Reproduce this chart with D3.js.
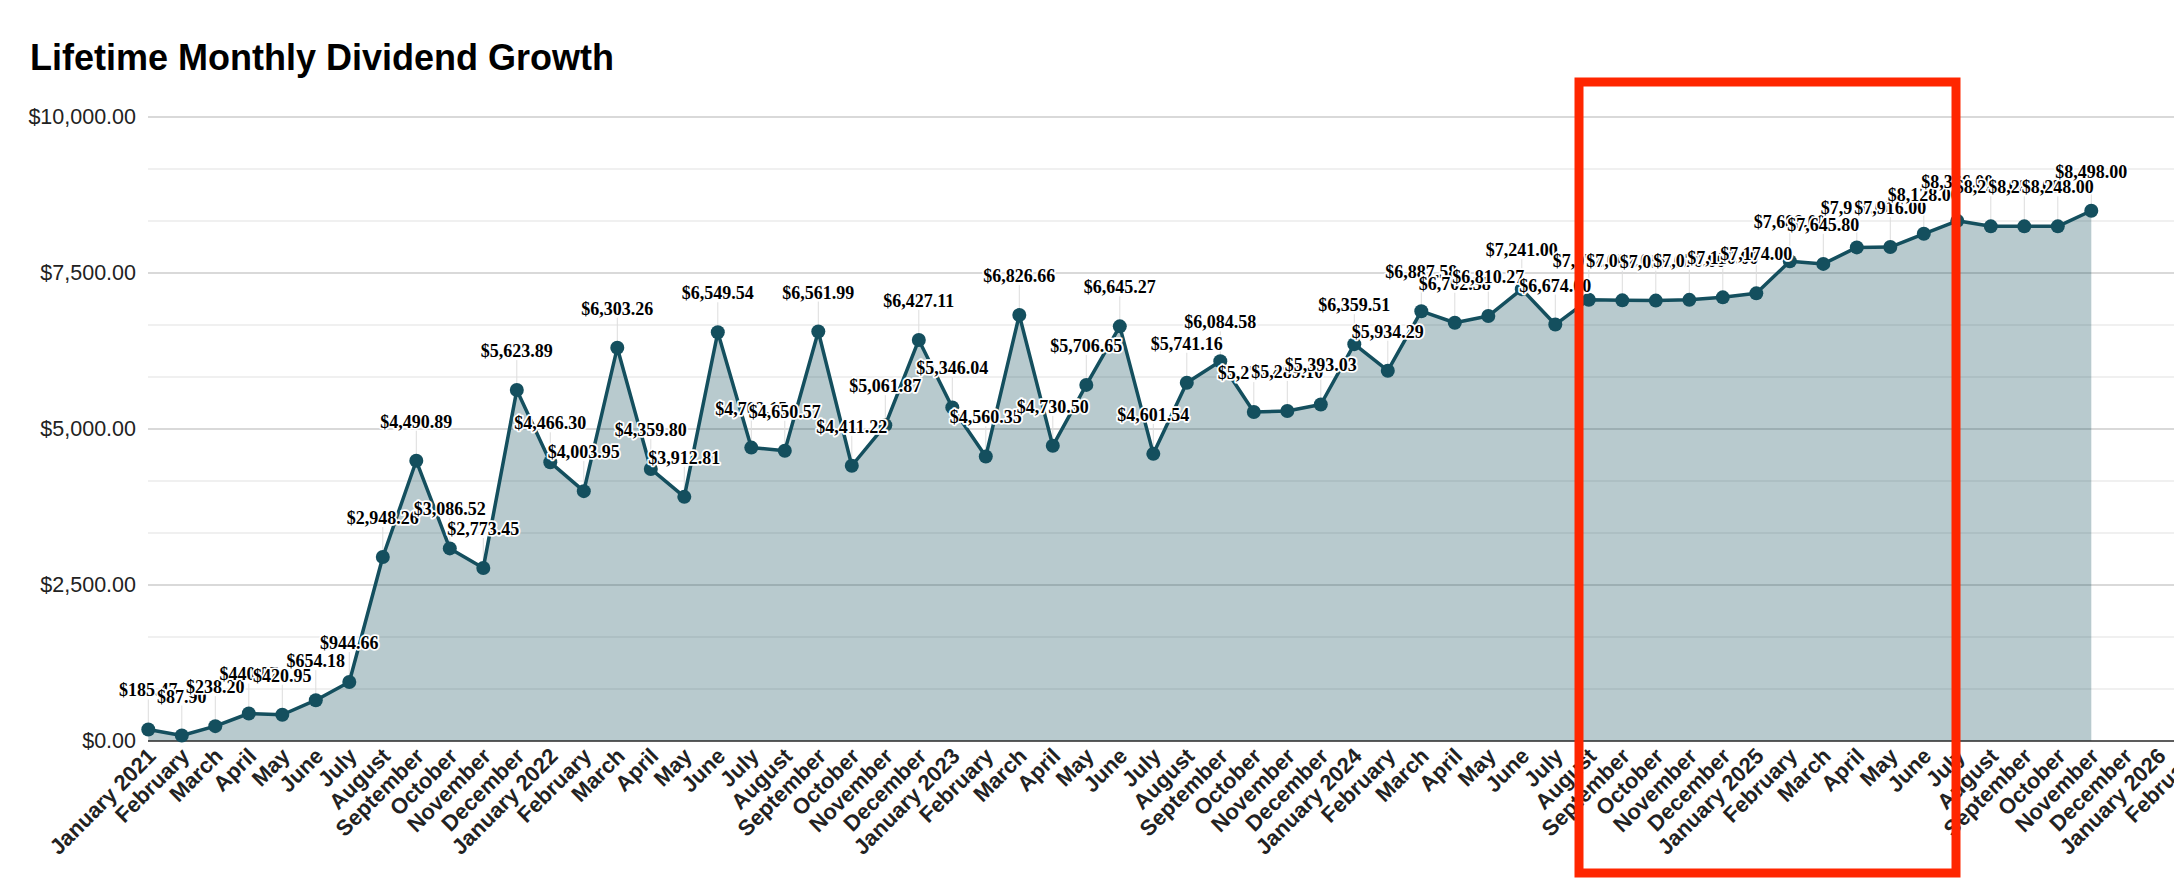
<!DOCTYPE html>
<html>
<head>
	<meta http-equiv="Content-Type" content="text/html; charset=utf-8" />
	<script src="https://cdn.jsdelivr.net/npm/d3@7/dist/d3.min.js" charset="utf-8"></script>
	<style type="text/css">
	body {
		background-color: #FFFFFF;
		margin: 0;
		overflow: hidden;
	}
	</style>
</head>
<body>
	<svg id="chart" width="2174" height="882" version="1.1" xmlns="http://www.w3.org/2000/svg"></svg>

	<script type="text/javascript">
		/* x categories, Jan 2021 .. Feb 2026 */
		var v_Months = [
			"January 2021", "February", "March", "April", "May", "June", "July", "August", "September", "October", "November", "December",
			"January 2022", "February", "March", "April", "May", "June", "July", "August", "September", "October", "November", "December",
			"January 2023", "February", "March", "April", "May", "June", "July", "August", "September", "October", "November", "December",
			"January 2024", "February", "March", "April", "May", "June", "July", "August", "September", "October", "November", "December",
			"January 2025", "February", "March", "April", "May", "June", "July", "August", "September", "October", "November", "December",
			"January 2026", "February"
		];

		/* monthly dividends, one per month from January 2021 */
		var v_Dividends = [
			185.47, 87.90, 238.20, 440.87, 420.95, 654.18, 944.66, 2948.26, 4490.89, 3086.52, 2773.45, 5623.89,
			4466.30, 4003.95, 6303.26, 4359.80, 3912.81, 6549.54, 4702.15, 4650.57, 6561.99, 4411.22, 5061.87, 6427.11,
			5346.04, 4560.35, 6826.66, 4730.50, 5706.65, 6645.27, 4601.54, 5741.16, 6084.58, 5271.43, 5289.10, 5393.03,
			6359.51, 5934.29, 6887.58, 6702.38, 6810.27, 7241.00, 6674.00, 7072.00, 7062.00, 7058.00, 7070.00, 7110.00,
			7174.00, 7688.00, 7645.80, 7910.00, 7916.00, 8128.00, 8336.00, 8248.00, 8248.00, 8248.00, 8498.00
		];

		var v_YTicks = [0, 2500, 5000, 7500, 10000];

		var v_Color  = "#144f5e";
		var v_SVG    = d3.select("#chart");
		var v_Bottom = 741;
		var v_Top    = 117;

		var v_X = d3.scalePoint()
		.domain(d3.range(v_Months.length))
		.range([148.3 ,148.3 + (v_Months.length - 1) * 33.5]);

		var v_Y = d3.scaleLinear()
		.domain([0 ,10000])
		.range([v_Bottom ,v_Top]);

		var v_Data = v_Dividends.map(function(d ,i) { return {i: i, v: d}; });
		var v_Fmt  = function(d) { return "$" + d3.format(",.2f")(d); };

		/* title */
		v_SVG.append("text")
		.attr("x" ,30)
		.attr("y" ,70)
		.attr("font-family" ,"'Liberation Sans', Arial, sans-serif")
		.attr("font-weight" ,"bold")
		.attr("font-size" ,"36px")
		.attr("fill" ,"#000")
		.text("Lifetime Monthly Dividend Growth");

		/* gridlines, major every 2500 and two minor in between */
		var v_Grid = d3.range(0 ,13).map(function(k) { return k * 10000 / 12; });
		v_SVG.append("g")
		.selectAll("line")
		.data(v_Grid)
		.join("line")
		.attr("x1" ,148)
		.attr("x2" ,2174)
		.attr("y1" ,function(d) { return v_Y(d); })
		.attr("y2" ,function(d) { return v_Y(d); })
		.attr("stroke" ,function(d ,k) { return k % 3 == 0 ? "#cccccc" : "#ebebeb"; })
		.attr("stroke-width" ,1.5);

		/* y axis */
		var v_YAxis = v_SVG.append("g")
		.attr("transform" ,"translate(136,0)")
		.call(d3.axisLeft(v_Y).tickValues(v_YTicks).tickFormat(v_Fmt).tickSize(0).tickPadding(0));
		v_YAxis.select(".domain").remove();
		v_YAxis.selectAll("text")
		.attr("font-family" ,"'Liberation Sans', Arial, sans-serif")
		.attr("font-size" ,"21.5px")
		.attr("fill" ,"#222");

		/* x axis, rotated labels */
		var v_XAxis = v_SVG.append("g")
		.attr("transform" ,"translate(0," + v_Bottom + ")")
		.call(d3.axisBottom(v_X).tickFormat(function(i) { return v_Months[i]; }).tickSize(0));
		v_XAxis.select(".domain").remove();
		v_XAxis.selectAll("text")
		.attr("font-family" ,"'Liberation Sans', Arial, sans-serif")
		.attr("font-weight" ,"bold")
		.attr("font-size" ,"22px")
		.attr("fill" ,"#222")
		.attr("text-anchor" ,"end")
		.attr("x" ,0)
		.attr("y" ,0)
		.attr("dy" ,"0.35em")
		.attr("transform" ,"translate(3,11) rotate(-45)");

		/* area + line */
		var v_Area = d3.area()
		.x(function(d) { return v_X(d.i); })
		.y0(v_Bottom)
		.y1(function(d) { return v_Y(d.v); });

		var v_Line = d3.line()
		.x(function(d) { return v_X(d.i); })
		.y(function(d) { return v_Y(d.v); });

		v_SVG.append("path")
		.attr("d" ,v_Area(v_Data))
		.attr("fill" ,v_Color)
		.attr("fill-opacity" ,0.3);

		/* baseline */
		v_SVG.append("line")
		.attr("x1" ,148)
		.attr("x2" ,2174)
		.attr("y1" ,v_Y(0))
		.attr("y2" ,v_Y(0))
		.attr("stroke" ,"#333")
		.attr("stroke-width" ,1.5);

		/* annotation stems */
		v_SVG.append("g")
		.selectAll("line")
		.data(v_Data)
		.join("line")
		.attr("x1" ,function(d) { return v_X(d.i); })
		.attr("x2" ,function(d) { return v_X(d.i); })
		.attr("y1" ,function(d) { return v_Y(d.v); })
		.attr("y2" ,function(d) { return v_Y(d.v) - 30; })
		.attr("stroke" ,"#dddddd")
		.attr("stroke-width" ,1);

		v_SVG.append("path")
		.attr("d" ,v_Line(v_Data))
		.attr("fill" ,"none")
		.attr("stroke" ,v_Color)
		.attr("stroke-width" ,3.5)
		.attr("stroke-linejoin" ,"round");

		v_SVG.append("g")
		.selectAll("circle")
		.data(v_Data)
		.join("circle")
		.attr("cx" ,function(d) { return v_X(d.i); })
		.attr("cy" ,function(d) { return v_Y(d.v); })
		.attr("r" ,7)
		.attr("fill" ,v_Color);

		/* value labels with white halo */
		v_SVG.append("g")
		.selectAll("text")
		.data(v_Data)
		.join("text")
		.attr("x" ,function(d) { return v_X(d.i); })
		.attr("y" ,function(d) { return v_Y(d.v) - 33; })
		.attr("text-anchor" ,"middle")
		.attr("font-family" ,"'Liberation Serif', 'Times New Roman', serif")
		.attr("font-weight" ,"bold")
		.attr("font-size" ,"18px")
		.attr("fill" ,"#000")
		.attr("stroke" ,"#fff")
		.attr("stroke-width" ,3.5)
		.attr("stroke-linejoin" ,"round")
		.attr("paint-order" ,"stroke")
		.text(function(d) { return v_Fmt(d.v); });

		/* red highlight box */
		v_SVG.append("rect")
		.attr("x" ,1579)
		.attr("y" ,82)
		.attr("width" ,377)
		.attr("height" ,791)
		.attr("fill" ,"none")
		.attr("stroke" ,"#ff2600")
		.attr("stroke-width" ,9);
	</script>
</body>
</html>
